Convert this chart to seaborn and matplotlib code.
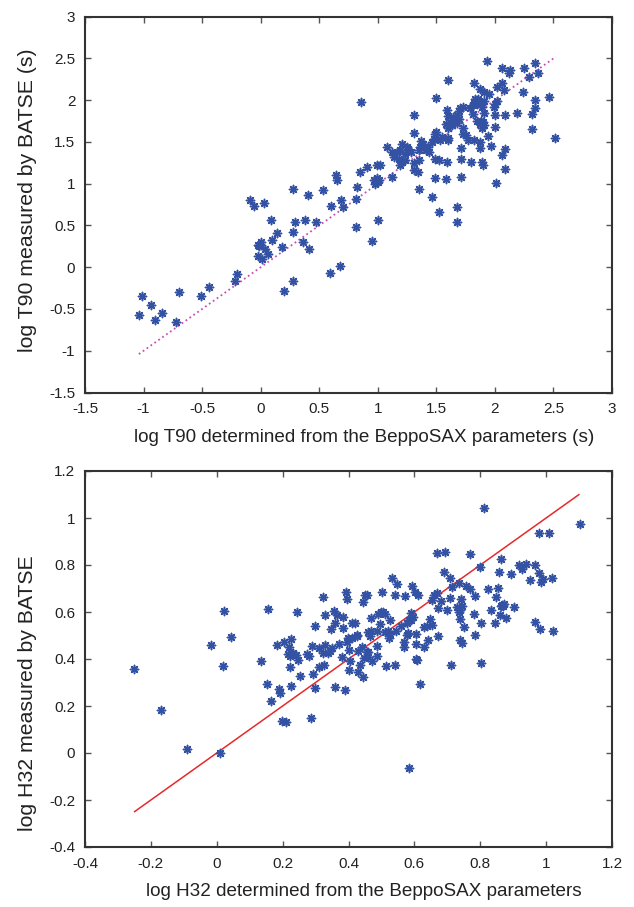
import matplotlib
matplotlib.use("Agg")
import matplotlib.pyplot as plt
import seaborn as sns
import numpy as np
import pandas as pd

# ---------------- data ----------------
t90_x = [-1.04, -1.01, -0.94, -0.84, -0.90, -0.72, -0.70, -0.51, -0.44, -0.22,
         -0.20, -0.09, -0.06, 0.03, 0.09, 0.14, 0.10, 0.00, -0.02, -0.01,
         0.04, 0.06, -0.02, 0.01, 0.18, 0.20, 0.28, 0.28, 0.29, 0.28,
         0.38, 0.36, 0.41, 0.47, 0.40, 0.53, 0.59, 0.68, 0.60, 0.64,
         0.65, 0.69, 0.70, 0.81, 0.81, 0.82, 0.85, 0.86, 0.91, 0.95,
         1.00, 0.99, 1.02, 0.97, 0.98, 0.99, 1.00, 1.01, 1.08, 1.12,
         1.21, 1.25, 1.19, 1.23, 1.16, 1.12, 1.14, 1.18, 1.21, 1.19,
         1.23, 1.28, 1.26, 1.37, 1.39, 1.36, 1.41, 1.43, 1.46, 1.44,
         1.35, 1.31, 1.35, 1.31, 1.34, 1.49, 1.52, 1.59, 1.71, 1.80,
         1.89, 1.90, 1.50, 1.49, 1.55, 1.60, 1.60, 1.53, 1.73, 1.75,
         1.77, 1.82, 1.87, 1.31, 1.31, 1.59, 1.60, 1.64, 1.68, 1.69,
         1.66, 1.62, 1.68, 1.63, 1.60, 1.58, 1.70, 1.73, 1.69, 1.79,
         1.81, 1.83, 1.86, 1.82, 1.85, 1.88, 1.91, 2.02, 2.00, 1.99,
         1.85, 1.88, 1.90, 1.87, 1.91, 1.89, 1.91, 2.00, 2.09, 2.19,
         2.00, 1.94, 1.97, 1.87, 2.09, 2.06, 2.09, 2.01, 1.49, 1.58,
         1.71, 1.35, 1.50, 1.93, 2.06, 2.13, 2.12, 2.25, 2.34, 2.37,
         2.29, 1.60, 1.82, 2.06, 2.02, 1.87, 1.91, 1.95, 2.08, 2.24,
         2.46, 2.34, 2.34, 2.32, 2.32, 2.51, 1.81, 1.89, 1.71, 1.73,
         1.48, 1.46, 1.68, 1.52, 1.68]
t90_y = [-0.57, -0.35, -0.45, -0.55, -0.63, -0.66, -0.30, -0.35, -0.24, -0.17,
         -0.08, 0.81, 0.73, 0.77, 0.57, 0.41, 0.33, 0.30, 0.27, 0.26,
         0.22, 0.16, 0.14, 0.10, 0.24, -0.29, -0.17, 0.94, 0.54, 0.42,
         0.57, 0.30, 0.22, 0.54, 0.86, 0.93, -0.07, 0.01, 0.73, 1.10,
         1.05, 0.81, 0.72, 0.82, 0.48, 0.96, 1.14, 1.98, 1.20, 0.32,
         0.57, 1.22, 1.22, 1.05, 1.00, 1.07, 1.02, 1.04, 1.44, 1.08,
         1.48, 1.44, 1.40, 1.36, 1.38, 1.38, 1.32, 1.30, 1.26, 1.22,
         1.28, 1.38, 1.42, 1.51, 1.48, 1.44, 1.40, 1.44, 1.50, 1.38,
         1.40, 1.25, 1.28, 1.16, 1.14, 1.30, 1.29, 1.26, 1.30, 1.26,
         1.26, 1.22, 1.62, 1.59, 1.56, 1.55, 1.52, 1.52, 1.60, 1.58,
         1.52, 1.52, 1.50, 1.82, 1.61, 1.88, 1.81, 1.80, 1.82, 1.78,
         1.76, 1.74, 1.73, 1.70, 1.67, 1.72, 1.91, 1.92, 1.87, 1.91,
         1.94, 2.01, 2.01, 1.97, 1.95, 1.98, 1.99, 1.99, 1.95, 1.92,
         1.75, 1.75, 1.74, 1.72, 1.70, 1.67, 1.85, 1.82, 1.82, 1.85,
         1.68, 1.57, 1.45, 1.43, 1.42, 1.34, 1.18, 1.01, 1.07, 1.06,
         1.08, 0.94, 2.03, 2.47, 2.38, 2.36, 2.32, 2.39, 2.44, 2.33,
         2.28, 2.24, 2.21, 2.21, 2.16, 2.13, 2.10, 2.08, 2.12, 2.10,
         2.04, 2.00, 1.91, 1.83, 1.66, 1.55, 1.83, 1.92, 1.43, 1.67,
         1.53, 0.84, 0.72, 0.66, 0.54]

h32_x = [-0.25, -0.17, -0.09, 0.01, 0.02, 0.022, 0.042, -0.016, 0.133, 0.154,
         0.164, 0.156, 0.182, 0.188, 0.193, 0.198, 0.209, 0.203, 0.226, 0.22,
         0.225, 0.223, 0.215, 0.222, 0.232, 0.24, 0.244, 0.247, 0.253, 0.275,
         0.279, 0.285, 0.29, 0.292, 0.298, 0.299, 0.31, 0.31, 0.322, 0.323,
         0.326, 0.328, 0.329, 0.338, 0.343, 0.347, 0.349, 0.355, 0.359, 0.359,
         0.366, 0.37, 0.381, 0.382, 0.383, 0.39, 0.392, 0.394, 0.396, 0.399,
         0.402, 0.402, 0.405, 0.412, 0.412, 0.426, 0.43, 0.434, 0.442, 0.443,
         0.444, 0.448, 0.45, 0.458, 0.458, 0.472, 0.488, 0.514, 0.541, 0.608,
         0.617, 0.584, 0.711, 0.803,
         0.81, 1.103, 0.978, 1.008, 0.668, 0.693, 0.769, 0.862, 0.798, 0.918,
         0.94, 0.966, 0.926, 0.856, 0.892, 0.979, 0.95, 0.983, 0.989, 1.017,
         0.689, 0.709, 0.532, 0.548, 0.593, 0.713, 0.735, 0.758, 0.768, 0.824,
         0.854, 0.785, 0.848, 0.455, 0.502, 0.541, 0.571, 0.602, 0.61, 0.659,
         0.669, 0.653, 0.681, 0.708, 0.743, 0.865, 0.873, 0.868, 0.862, 0.903,
         0.672, 0.70, 0.73, 0.736, 0.745, 0.74, 0.832, 0.468, 0.49, 0.505,
         0.51, 0.50, 0.525, 0.496, 0.59, 0.596, 0.59, 0.583, 0.647, 0.739,
         0.78, 0.86, 0.878, 0.846, 0.801, 0.752, 0.654, 0.63, 0.637, 0.577,
         0.559, 0.545, 0.52, 0.527, 0.523, 0.51, 0.46, 0.468, 0.465, 0.488,
         0.425, 0.42, 0.581, 0.578, 0.605, 0.671, 0.784, 0.967, 0.981, 1.02,
         0.569, 0.568, 0.606, 0.628, 0.64, 0.738, 0.746, 0.605, 0.488, 0.457,
         0.428]
h32_y = [0.357, 0.184, 0.016, 0.001, 0.37, 0.604, 0.492, 0.461, 0.39, 0.295,
         0.22, 0.614, 0.46, 0.272, 0.257, 0.137, 0.131, 0.474, 0.486, 0.452,
         0.284, 0.367, 0.42, 0.412, 0.425, 0.415, 0.601, 0.397, 0.328, 0.42,
         0.413, 0.148, 0.457, 0.336, 0.277, 0.54, 0.446, 0.366, 0.427, 0.664,
         0.376, 0.46, 0.587, 0.424, 0.435, 0.526, 0.448, 0.606, 0.554, 0.281,
         0.586, 0.465, 0.41, 0.58, 0.532, 0.269, 0.685, 0.657, 0.474, 0.491,
         0.437, 0.353, 0.393, 0.554, 0.488, 0.499, 0.346, 0.373, 0.452, 0.644,
         0.323, 0.403, 0.672, 0.41, 0.431, 0.393, 0.411, 0.37, 0.374, 0.396,
         0.294, -0.063, 0.373, 0.383,
         1.043, 0.973, 0.937, 0.937, 0.852, 0.855, 0.845, 0.826, 0.791, 0.801,
         0.803, 0.80, 0.783, 0.772, 0.76, 0.767, 0.738, 0.729, 0.739, 0.746,
         0.772, 0.746, 0.743, 0.719, 0.712, 0.708, 0.722, 0.711, 0.697, 0.70,
         0.703, 0.669, 0.665, 0.674, 0.684, 0.674, 0.669, 0.684, 0.671, 0.672,
         0.68, 0.65, 0.648, 0.658, 0.655, 0.63, 0.635, 0.625, 0.626, 0.62,
         0.617, 0.608, 0.62, 0.60, 0.625, 0.61, 0.607, 0.574, 0.59, 0.598,
         0.59, 0.60, 0.567, 0.55, 0.596, 0.58, 0.566, 0.565, 0.57, 0.569,
         0.593, 0.586, 0.576, 0.553, 0.552, 0.537, 0.546, 0.537, 0.54, 0.552,
         0.542, 0.52, 0.52, 0.508, 0.49, 0.516, 0.516, 0.52, 0.497, 0.519,
         0.501, 0.552, 0.509, 0.501, 0.506, 0.499, 0.502, 0.556, 0.528, 0.518,
         0.472, 0.45, 0.465, 0.451, 0.481, 0.481, 0.468, 0.399, 0.455, 0.429,
         0.435]

t90_line = [-1.04, 2.52]
h32_line = [-0.25, 1.10]
t90_ticks = [-1.5, -1, -0.5, 0, 0.5, 1, 1.5, 2, 2.5, 3]
h32_ticks = [-0.4, -0.2, 0, 0.2, 0.4, 0.6, 0.8, 1, 1.2]

# ---------------- style ----------------
sns.set_theme(style="ticks")
plt.rcParams["font.family"] = ["Liberation Sans", "DejaVu Sans"]

BLUE = "#3452a4"
MAGENTA = "#c64fb4"
RED = "#e8282a"

W, H = 634, 907
fig = plt.figure(figsize=(W / 100, H / 100), dpi=100)
ax1 = fig.add_axes([85 / W, 1 - 392.5 / H, 527 / W, 375.8 / H])
ax2 = fig.add_axes([85 / W, 1 - 847 / H, 527 / W, 376 / H])


def fmt(v):
    s = f"{v:g}"
    return "0" if s == "-0" else s


def style(ax, ticks, xlabel, ylabel, ylab_y):
    ax.set_xlim(ticks[0], ticks[-1])
    ax.set_ylim(ticks[0], ticks[-1])
    ax.set_xticks(ticks)
    ax.set_yticks(ticks)
    ax.set_xticklabels([fmt(t) for t in ticks])
    ax.set_yticklabels([fmt(t) for t in ticks])
    ax.tick_params(direction="in", top=True, right=True, length=4, width=1,
                   color="#555555", labelsize=11, pad=7, labelcolor="#222222")
    for sp in ax.spines.values():
        sp.set_visible(True)
        sp.set_linewidth(1.5)
        sp.set_color("#333333")
    ax.set_xlabel(xlabel, fontsize=13.6, color="#222222", labelpad=9)
    ax.set_ylabel(ylabel, fontsize=15.3, color="#222222", labelpad=9)
    ax.xaxis.label.set_x(0.53)
    ax.yaxis.label.set_y(ylab_y)


sns.scatterplot(x=t90_x, y=t90_y, ax=ax1, marker=(8, 2, 0), color=BLUE,
                s=34, linewidth=1.15, legend=False, zorder=3)
sns.lineplot(x=t90_line, y=t90_line, ax=ax1, color=MAGENTA, linestyle=":",
             linewidth=1.3, zorder=2)
style(ax1, t90_ticks, "log T90 determined from the BeppoSAX parameters (s)",
      "log T90 measured by BATSE (s)", 0.512)

sns.scatterplot(x=h32_x, y=h32_y, ax=ax2, marker=(8, 2, 0), color=BLUE,
                s=34, linewidth=1.15, legend=False, zorder=3)
sns.lineplot(x=h32_line, y=h32_line, ax=ax2, color=RED, linestyle="-",
             linewidth=1.1, zorder=2)
style(ax2, h32_ticks, "log H32 determined from the BeppoSAX parameters",
      "log H32 measured by BATSE", 0.41)

fig.savefig("out.png", dpi=100)
